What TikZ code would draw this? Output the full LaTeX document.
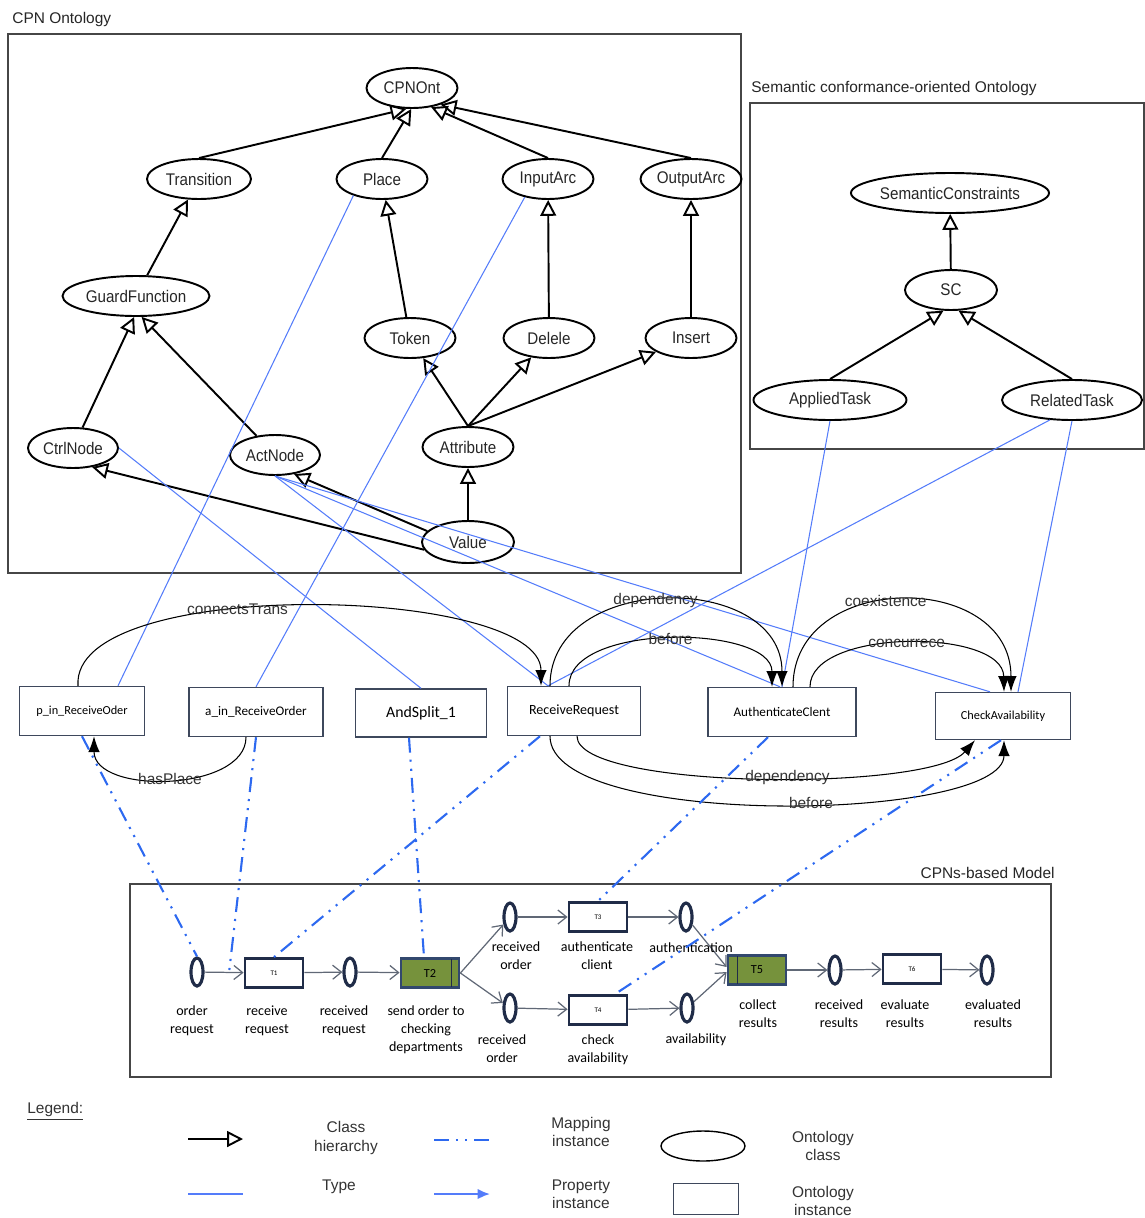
\documentclass[tikz,border=0pt]{standalone}
\usepackage{fontspec}
\setmainfont{Liberation Sans}
\newfontfamily\cpnfont{Carlito}
\newfontfamily\ontfont[FakeStretch=0.9]{Liberation Sans}
\usetikzlibrary{shapes.geometric, arrows.meta, calc, positioning}

\definecolor{typeblue}{RGB}{84,124,250}
\definecolor{mapblue}{RGB}{45,105,240}
\definecolor{cpnnavy}{RGB}{32,44,72}
\definecolor{arcgray}{RGB}{96,104,118}
\definecolor{tgreen}{RGB}{118,146,60}
\definecolor{instline}{RGB}{62,72,92}
\definecolor{framegray}{RGB}{70,70,70}

\tikzstyle{ontclass} = [ellipse, draw, line width=1.1pt, minimum height=0.8cm, inner sep=0pt, text=black!85, font=\ontfont\fontsize{9.6}{11}\selectfont]
\tikzstyle{ontinst} = [rectangle, draw=instline, line width=0.8pt, minimum height=0.98cm, inner sep=1pt, font=\cpnfont\fontsize{7.5}{9}\selectfont]
\tikzstyle{cpnplace} = [ellipse, draw=cpnnavy, line width=1.8pt, minimum width=0.24cm, minimum height=0.56cm, inner sep=0pt]
\tikzstyle{cpntrans} = [rectangle, draw=cpnnavy, line width=1.6pt, minimum width=1.16cm, minimum height=0.58cm, inner sep=0pt, font=\cpnfont\fontsize{4}{5}\selectfont]
\tikzstyle{cpnlabel} = [align=center, inner sep=0pt, font=\cpnfont\fontsize{8}{10.2}\selectfont]
\tikzstyle{boxframe} = [draw=framegray, line width=1pt]
\tikzstyle{boxtitle} = [inner sep=0pt, text=black!85, font=\fontsize{8.8}{10}\selectfont]
\tikzstyle{proplabel} = [inner sep=0pt, text=black!80, font=\fontsize{8.8}{10}\selectfont]
\tikzstyle{legendtext} = [align=center, inner sep=0pt, text=black!80, font=\fontsize{8.8}{10.4}\selectfont]
\tikzstyle{hier} = [draw, line width=1.1pt, -{Triangle[open, length=9pt, width=9pt]}]
\tikzstyle{typeline} = [draw=typeblue, line width=0.6pt]
\tikzstyle{propline} = [draw, line width=0.6pt, -{Latex[length=9pt, width=6.5pt]}]
\tikzstyle{mapline} = [draw=mapblue, line width=1.2pt, dash pattern=on 8.5pt off 4pt on 1.2pt off 4pt on 1.2pt off 4pt]
\tikzstyle{cpnarc} = [draw=arcgray, line width=0.7pt, -{Straight Barb[length=5pt, width=8pt]}]

\begin{document}
\begin{tikzpicture}[x=0.02cm, y=-0.02cm]
\useasboundingbox (0,0) rectangle (1145,1218);

% frames
\draw [boxframe] (8,34) rectangle (741,573);
\node [boxtitle, anchor=west] (cpntitle) at (12,19) {CPN Ontology};
\draw [boxframe] (750,103) rectangle (1144,449);
\node [boxtitle, anchor=west] (semtitle) at (751,88) {Semantic conformance-oriented Ontology};
\draw [boxframe] (130,884) rectangle (1051,1077);
\node [boxtitle, anchor=east] (modeltitle) at (1055,873) {CPNs-based Model};

% CPN ontology
\node [ontclass, minimum width=1.82cm] (cpnont) at (412,88) {CPNOnt};
\node [ontclass, minimum width=2.08cm] (transition) at (199,179) {Transition};
\node [ontclass, minimum width=1.82cm] (place) at (382,179) {Place};
\node [ontclass, minimum width=1.82cm] (inputarc) at (548,179) {InputArc};
\node [ontclass, minimum width=2.02cm] (outputarc) at (691,179) {OutputArc};
\node [ontclass, minimum width=2.94cm] (guard) at (136,296) {GuardFunction};
\node [ontclass, minimum width=1.82cm] (token) at (410,338) {Token};
\node [ontclass, minimum width=1.82cm] (delele) at (549,338) {Delele};
\node [ontclass, minimum width=1.82cm] (insert) at (691,338) {Insert};
\node [ontclass, minimum width=1.8cm] (ctrlnode) at (73,448) {CtrlNode};
\node [ontclass, minimum width=1.8cm] (actnode) at (275,455) {ActNode};
\node [ontclass, minimum width=1.82cm] (attribute) at (468,447) {Attribute};
\node [ontclass, minimum width=1.84cm, minimum height=0.84cm] (value) at (468,542) {Value};

% semantic ontology
\node [ontclass, minimum width=3.86cm] (semcons) at (950,193) {SemanticConstraints};
\node [ontclass, minimum width=1.84cm] (sc) at (951,290) {SC};
\node [ontclass, minimum width=3.06cm] (applied) at (830,400) {AppliedTask};
\node [ontclass, minimum width=2.8cm] (related) at (1072,400) {RelatedTask};

% class hierarchy
\path [hier] (transition.north) -- (cpnont.255);
\path [hier] (place.north) -- (cpnont.268);
\path [hier] (inputarc.north) -- (cpnont.315);
\path [hier] (outputarc.north) -- (cpnont.330);
\path [hier] (guard) -- (transition);
\path [hier] (token) -- (place);
\path [hier] (delele) -- (inputarc);
\path [hier] (insert) -- (outputarc);
\path [hier] (ctrlnode) -- (guard.265);
\path [hier] (actnode) -- (guard.285);
\path [hier] (attribute.north) -- (token);
\path [hier] (attribute.north) -- (delele);
\path [hier] (attribute.north) -- (insert);
\path [hier] (value) -- (attribute);
\path [hier] (value.190) -- (ctrlnode.315);
\path [hier] (value.165) -- (actnode.315);
\path [hier] (sc) -- (semcons);
\path [hier] (applied.north) -- (sc.250);
\path [hier] (related.north) -- (sc.290);

% ontology instances
\node [ontinst, minimum width=2.5cm, font=\cpnfont\fontsize{7}{8}\selectfont] (pin) at (82,711) {p\_in\_ReceiveOder};
\node [ontinst, minimum width=2.68cm] (ain) at (256,712) {a\_in\_ReceiveOrder};
\node [ontinst, minimum width=2.62cm, minimum height=0.96cm, font=\cpnfont\fontsize{9}{10}\selectfont] (andsplit) at (421,713) {AndSplit\_1};
\node [ontinst, minimum width=2.66cm, font=\cpnfont\fontsize{8}{9}\selectfont] (rr) at (574,711) {ReceiveRequest};
\node [ontinst, minimum width=2.96cm] (ac) at (782,712) {AuthenticateClent};
\node [ontinst, minimum width=2.7cm, minimum height=0.94cm, font=\cpnfont\fontsize{7}{8}\selectfont] (ca) at (1003,716) {CheckAvailability};

% type
\path [typeline] (place.210) -- ($(pin.north)+(36,0)$);
\path [typeline] (inputarc.218) -- (ain.north);
\path [typeline] (ctrlnode.east) -- (andsplit.north);
\path [typeline] (actnode.south) -- ($(rr.north)+(-26,0)$);
\path [typeline] (actnode.south) -- ($(ac.north)+(-2,0)$);
\path [typeline] (actnode.south) -- ($(ca.north)+(-13,0)$);
\path [typeline] (applied.south) -- (ac.north);
\path [typeline] (related.222) -- ($(rr.north)+(-26,0)$);
\path [typeline] (related.south) -- ($(ca.north)+(15,0)$);

% property instances
\path [propline] ($(pin.north)+(-4,0)$) .. controls (70,575) and (541,585) .. node[proplabel, pos=0.4] {connectsTrans} ($(rr.north)+(-33,0)$);
\path [propline] ($(ain.south)+(-10,0)$) .. controls (246,792) and (94,795) .. node[proplabel] {hasPlace} ($(pin.south)+(12,0)$);
\path [propline] ($(rr.north)+(-24,0)$) .. controls (550,571) and (782,571) .. node[proplabel, pos=0.47] {dependency} (ac.north);
\path [propline] ($(rr.north)+(-5,0)$) .. controls (569,622) and (772,625) .. node[proplabel] {before} ($(ac.north)+(-10,0)$);
\path [propline] ($(ac.north)+(11,0)$) .. controls (793,570) and (1011,570) .. node[proplabel, pos=0.45] {coexistence} ($(ca.north)+(8,0)$);
\path [propline] ($(ac.north)+(28,0)$) .. controls (810,628) and (1003,628) .. node[proplabel] {concurrece} ($(ca.north)+(1,0)$);
\path [propline] ($(rr.south)+(3,0)$) .. controls (577,790) and (930,792) .. node[proplabel, pos=0.55] {dependency} ($(ca.south)+(-28,0)$);
\path [propline] ($(rr.south)+(-24,0)$) .. controls (550,830) and (1004,822) .. node[proplabel, pos=0.55] {before} ($(ca.south)+(1,0)$);

% CPNs-based model
\node [cpnplace] (p1) at (197,972) {};
\node [cpntrans] (t1) at (274,973) {T1};
\node [cpnplace] (p2) at (350,972) {};
\node [cpntrans, fill=tgreen, draw={rgb,255:red,50;green,72;blue,110}, font=\cpnfont\fontsize{7}{8}\selectfont] (t2) at (430,973) {T2};
\node [cpnplace] (p3) at (510,917) {};
\node [cpnplace] (p4) at (510,1008) {};
\node [cpntrans] (t3) at (598,917) {T3};
\node [cpntrans] (t4) at (598,1010) {T4};
\node [cpnplace] (p5) at (686,917) {};
\node [cpnplace] (p6) at (687,1008) {};
\node [cpntrans, fill=tgreen, draw={rgb,255:red,50;green,72;blue,110}, font=\cpnfont\fontsize{7}{8}\selectfont] (t5) at (757,970) {T5};
\node [cpnplace] (p7) at (835,970) {};
\node [cpntrans] (t6) at (912,969) {T6};
\node [cpnplace] (p8) at (987,970) {};
\draw [cpnnavy, line width=1pt] ($(t2.north east)+(-9,2)$) -- ($(t2.south east)+(-9,-2)$);
\draw [cpnnavy, line width=1pt] ($(t5.north west)+(11,2)$) -- ($(t5.south west)+(11,-2)$);

\path [cpnarc] (p1) -- (t1);
\path [cpnarc] (t1) -- (p2);
\path [cpnarc] (p2) -- (t2);
\path [cpnarc] (t2.east) -- (p3);
\path [cpnarc] (t2.east) -- (p4);
\path [cpnarc] (p3) -- (t3);
\path [cpnarc] (p4) -- (t4);
\path [cpnarc] (t3) -- (p5);
\path [cpnarc] (t4) -- (p6);
\path [cpnarc] (p5) -- ($(t5.west)+(0,-3)$);
\path [cpnarc] (p6) -- ($(t5.west)+(0,2)$);
\path [cpnarc] (t5) -- (p7);
\path [cpnarc] (p7) -- (t6);
\path [cpnarc] (t6) -- (p8);
\coordinate (onarc) at (229,973);

\node [cpnlabel] (lp1) at (192,1021) {order\\request};
\node [cpnlabel] (lt1) at (267,1021) {receive\\request};
\node [cpnlabel] (lp2) at (344,1021) {received\\request};
\node [cpnlabel] (lt2) at (426,1030) {send order to\\checking\\departments};
\node [cpnlabel] (lp3) at (516,956) {received\\order};
\node [cpnlabel] (lp4) at (502,1049) {received\\order};
\node [cpnlabel] (lt3) at (597,956) {authenticate\\client};
\node [cpnlabel] (lp5) at (691,948) {authentication};
\node [cpnlabel] (lt4) at (598,1050) {check\\availability};
\node [cpnlabel] (lp6) at (696,1040) {availability};
\node [cpnlabel] (lt5) at (758,1014) {collect\\results};
\node [cpnlabel] (lp7) at (839,1014) {received\\results};
\node [cpnlabel] (lt6) at (905,1014) {evaluate\\results};
\node [cpnlabel] (lp8) at (993,1014) {evaluated\\results};

% mapping instances
\path [mapline] (pin.south) -- (p1.north);
\path [mapline] (ain.south) -- (onarc);
\path [mapline] ($(andsplit.south)+(-12,0)$) -- ($(t2.north)+(-6,0)$);
\path [mapline] ($(rr.south)+(-34,0)$) -- (t1.north);
\path [mapline] ($(ac.south)+(-14,0)$) -- (t3.north);
\path [mapline] ($(ca.south)+(-2,0)$) -- ($(t4.north)+(17,0)$);

% legend
\node [legendtext, anchor=west] (legend) at (27,1111) {\underline{Legend:}};
\coordinate (hierA) at (188,1139);
\coordinate (hierB) at (243,1139);
\path [hier] (hierA) -- (hierB);
\node [legendtext] (hiertext) at (346,1138) {Class\\hierarchy};
\coordinate (typeA) at (188,1194);
\coordinate (typeB) at (243,1194);
\path [typeline, line width=1.2pt] (typeA) -- (typeB);
\node [legendtext] (typetext) at (339,1187) {Type};
\coordinate (mapA) at (434,1140);
\coordinate (mapB) at (490,1140);
\path [mapline] (mapA) -- (mapB);
\node [legendtext] (maptext) at (581,1132) {Mapping\\instance};
\coordinate (propA) at (434,1194);
\coordinate (propB) at (490,1194);
\path [draw=typeblue, line width=1.2pt, -{Latex[length=7pt, width=6pt]}] (propA) -- (propB);
\node [legendtext] (proptext) at (581,1194) {Property\\instance};
\node [ellipse, draw, line width=0.8pt, minimum width=1.68cm, minimum height=0.6cm] (legclass) at (703,1146) {};
\node [legendtext] (classtext) at (823,1146) {Ontology\\class};
\node [rectangle, draw=instline, line width=0.8pt, minimum width=1.3cm, minimum height=0.62cm] (leginst) at (706,1199) {};
\node [legendtext] (insttext) at (823,1201) {Ontology\\instance};

\end{tikzpicture}
\end{document}
